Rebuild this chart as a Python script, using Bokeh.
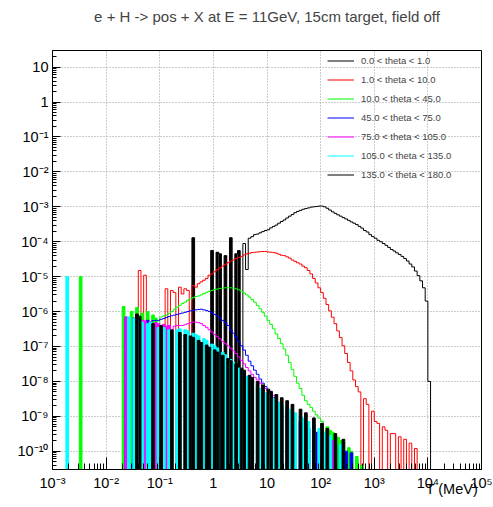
import numpy as np
from bokeh.plotting import figure
from bokeh.models import (Range1d, FixedTicker, Legend, LegendItem, CustomJSTickFormatter,
                          LogAxis)
from bokeh.embed import file_html
from bokeh.resources import INLINE

# ---------------- data (histogram contents, log-binned: 20 bins / decade from 1e-3 MeV) ----
LOG_BIN = 0.05
X_LOG_MIN = -3.0

labels = ["0.0 < theta < 1.0", "1.0 < theta < 10.0", "10.0 < theta < 45.0",
          "45.0 < theta < 75.0", "75.0 < theta < 105.0", "105.0 < theta < 135.0",
          "135.0 < theta < 180.0"]

th0_1_first = 52
th0_1 = [1.3e-4, 0, 0, 0, 0, 0, 0, 5.6e-5, 0, 5.0e-5, 4.5e-5, 0, 4.0e-5, 0, 1.3e-4,
         0, 4.5e-5, 5.6e-5, 0, 8.9e-5, 1.6e-5, 1.26e-4, 1.4e-4, 1.6e-4, 1.66e-4,
         1.8e-4, 1.95e-4, 2.1e-4, 2.2e-4, 2.5e-4, 2.75e-4, 3.0e-4, 3.4e-4, 3.8e-4, 4.2e-4,
         4.8e-4, 5.4e-4, 6.0e-4, 6.8e-4, 7.4e-4, 7.9e-4, 8.5e-4, 8.9e-4, 9.3e-4, 9.8e-4,
         1.0e-3, 1.02e-3, 1.05e-3, 1.05e-3, 1.0e-3, 9.1e-4, 8.1e-4, 7.2e-4, 6.5e-4, 5.9e-4,
         5.4e-4, 4.9e-4, 4.5e-4, 4.1e-4, 3.7e-4, 3.4e-4, 3.1e-4, 2.75e-4, 2.45e-4, 2.1e-4,
         1.9e-4, 1.6e-4, 1.4e-4, 1.26e-4, 1.1e-4, 1.0e-4, 8.9e-5, 7.9e-5, 6.9e-5, 6.0e-5,
         5.4e-5, 4.8e-5, 4.3e-5, 3.8e-5, 3.3e-5, 2.8e-5, 2.3e-5, 1.9e-5, 1.45e-5, 1.07e-5,
         7.6e-6, 4.8e-6, 2.0e-6, 1.0e-8]

th1_10_first = 32
th1_10 = [1.5e-5, 0, 1.1e-5, 0, 0, 0, 0, 0, 0, 0, 4.5e-6, 0, 4.0e-6, 3.5e-6, 0, 5.0e-6,
          3.2e-6, 4.5e-6, 4.0e-6, 0, 5.6e-6, 5.0e-6, 6.3e-6, 7.1e-6, 7.9e-6, 8.9e-6, 1.1e-5,
          1.2e-5, 1.38e-5, 1.58e-5, 1.78e-5, 2.0e-5, 2.24e-5, 2.5e-5, 2.8e-5, 3.0e-5, 3.3e-5,
          3.55e-5, 3.8e-5, 4.2e-5, 4.5e-5, 4.7e-5, 4.9e-5, 5.0e-5, 5.1e-5, 5.2e-5, 5.25e-5,
          5.25e-5, 5.1e-5, 5.0e-5, 4.9e-5, 4.7e-5, 4.4e-5, 4.1e-5, 4.0e-5, 3.7e-5, 3.4e-5,
          3.0e-5, 2.75e-5, 2.5e-5, 2.3e-5, 2.0e-5, 1.8e-5, 1.5e-5, 1.2e-5, 8.9e-6, 6.6e-6,
          4.8e-6, 3.5e-6, 2.4e-6, 1.6e-6, 1.05e-6, 6.9e-7, 4.5e-7, 2.8e-7, 1.8e-7, 1.05e-7,
          6.3e-8, 3.5e-8, 2.0e-8, 1.1e-8, 7.1e-9, 5.0e-9, 0, 3.2e-9, 2.2e-9, 0, 1.4e-9,
          7.1e-10, 6.3e-10, 0, 5.0e-10, 4.0e-10, 0, 3.2e-10, 3.2e-10, 0, 2.6e-10, 0, 2.2e-10,
          0, 1.7e-10, 0, 1.2e-10]

th10_45_first = 10
th10_45 = [1.0e-5, 0, 0, 0, 0, 0, 0, 0, 0, 0, 0, 0, 0, 0, 0, 0,
           1.4e-6, 0, 0, 1.0e-6, 0, 1.3e-6, 0, 9.0e-7, 0, 1.0e-6, 0, 8.0e-7, 6.5e-7, 0,
           7.0e-7, 7.5e-7, 7.9e-7, 8.9e-7, 1.0e-6, 1.17e-6, 1.35e-6, 1.5e-6, 1.7e-6, 1.86e-6,
           2.1e-6, 2.3e-6, 2.5e-6, 2.7e-6, 2.8e-6, 3.0e-6, 3.3e-6, 3.55e-6, 3.8e-6, 4.0e-6,
           4.3e-6, 4.4e-6, 4.6e-6, 4.7e-6, 4.8e-6, 4.8e-6, 4.8e-6, 4.7e-6, 4.5e-6, 4.2e-6,
           3.8e-6, 3.4e-6, 3.0e-6, 2.6e-6, 2.2e-6, 1.86e-6, 1.5e-6, 1.2e-6, 9.5e-7, 7.4e-7,
           5.6e-7, 4.3e-7, 3.2e-7, 2.3e-7, 1.7e-7, 1.2e-7, 8.5e-8, 5.6e-8, 3.5e-8, 2.2e-8,
           1.4e-8, 8.9e-9, 6.3e-9, 4.0e-9, 2.8e-9, 2.2e-9, 1.8e-9, 1.4e-9, 1.1e-9, 8.9e-10,
           7.1e-10, 0, 5.0e-10, 4.0e-10, 3.5e-10, 0, 2.5e-10, 2.0e-10, 1.8e-10, 0, 1.26e-10,
           1.0e-10, 0, 7.1e-11, 0, 4.0e-11]

th45_75_first = 26
th45_75 = [0, 6.9e-7, 0, 0, 6.5e-7, 0, 6.0e-7, 0, 0, 5.6e-7, 0, 5.5e-7, 5.6e-7, 5.6e-7,
           6.0e-7, 6.3e-7, 6.8e-7, 7.2e-7, 7.6e-7, 7.9e-7, 8.3e-7, 8.7e-7, 9.1e-7, 9.5e-7,
           1.0e-6, 1.05e-6, 1.07e-6, 1.12e-6, 1.15e-6, 1.17e-6, 1.12e-6, 1.07e-6, 1.0e-6,
           9.1e-7, 8.3e-7, 7.4e-7, 6.6e-7, 5.6e-7, 4.8e-7, 4.0e-7, 3.0e-7, 2.4e-7, 1.86e-7,
           1.4e-7, 1.05e-7, 7.9e-8, 5.6e-8, 3.8e-8, 2.8e-8, 2.1e-8, 1.6e-8, 1.17e-8, 8.9e-9,
           7.1e-9, 5.4e-9, 4.3e-9, 3.4e-9, 2.6e-9, 2.0e-9, 1.6e-9, 0, 1.0e-9, 1.4e-9, 0,
           7.9e-10, 0, 7.1e-10, 0, 0, 4.5e-10, 0, 0, 3.5e-10, 0, 2.8e-10, 0, 0, 2.0e-10, 0,
           1.6e-10, 0, 1.3e-10, 0, 1.0e-10, 0, 9.0e-11]

th75_105_first = 26
th75_105 = [0, 7.0e-7, 6.6e-7, 0, 0, 6.0e-7, 0, 5.6e-7, 5.4e-7, 0, 5.2e-7, 0, 4.8e-7, 4.5e-7,
            0, 4.3e-7, 3.8e-7, 4.0e-7, 0, 3.8e-7, 4.0e-7, 4.0e-7, 4.0e-7, 4.2e-7, 4.5e-7,
            4.8e-7, 5.0e-7, 5.0e-7, 4.8e-7, 4.5e-7, 4.0e-7, 3.55e-7, 3.0e-7, 2.6e-7, 2.2e-7,
            1.9e-7, 1.66e-7, 1.4e-7, 1.2e-7, 1.05e-7, 8.9e-8, 7.6e-8, 6.3e-8, 5.0e-8, 4.0e-8,
            3.2e-8, 2.5e-8, 2.0e-8, 1.6e-8, 1.3e-8, 1.1e-8, 8.9e-9, 7.6e-9, 6.3e-9, 5.4e-9,
            4.7e-9, 4.0e-9, 0, 2.5e-9, 1.6e-9, 0, 1.4e-9, 0, 1.0e-9, 0, 0, 7.1e-10, 0, 5.6e-10,
            0, 0, 4.0e-10, 0, 3.2e-10, 0, 0, 2.5e-10, 0, 2.0e-10]

th105_135_first = 5
th105_135 = [1.0e-5, 0, 0, 0, 0, 0, 0, 0, 0, 0, 0, 0, 0, 0, 0, 0, 0, 0, 0, 0, 0, 0, 0,
             7.0e-7, 0, 6.3e-7, 0, 5.6e-7, 5.0e-7, 0, 4.5e-7, 5.0e-7, 4.0e-7, 0, 3.5e-7,
             3.2e-7, 3.5e-7, 0, 3.0e-7, 2.8e-7, 0, 3.0e-7, 3.2e-7, 0, 3.0e-7,
             2.8e-7, 0, 2.4e-7, 2.2e-7, 2.0e-7, 0, 1.66e-7, 1.5e-7, 0, 1.17e-7, 1.05e-7,
             9.1e-8, 0, 6.8e-8, 5.8e-8, 0, 4.2e-8, 3.5e-8, 0, 2.4e-8, 2.0e-8, 0, 1.4e-8,
             1.17e-8, 1.0e-8, 0, 7.4e-9, 6.3e-9, 0, 4.8e-9, 0, 3.6e-9, 3.2e-9, 0, 2.5e-9,
             2.2e-9, 0, 1.8e-9, 1.6e-9, 0, 1.26e-9, 0, 1.0e-9, 8.9e-10, 0, 7.1e-10, 0,
             5.6e-10, 0, 4.5e-10, 0, 3.5e-10, 0, 2.8e-10, 0, 2.2e-10, 0, 1.6e-10]

th135_180_first = 26
th135_180 = [0, 0, 0, 0, 0, 8.5e-7, 7.4e-7, 0, 0, 0, 0, 4.5e-7, 0, 0, 4.0e-7, 0, 0, 0,
             3.0e-7, 0, 0, 2.5e-7, 0, 2.2e-7, 0, 2.0e-7, 1.8e-7, 0, 1.5e-7, 1.3e-7, 0,
             1.1e-7, 9.5e-8, 0, 8.0e-8, 6.9e-8, 0, 5.6e-8, 0, 4.5e-8, 3.9e-8, 0, 3.2e-8, 0,
             2.4e-8, 2.1e-8, 0, 1.5e-8, 1.3e-8, 0, 1.0e-8, 0, 7.9e-9, 0, 6.0e-9, 5.2e-9, 0,
             4.2e-9, 0, 3.4e-9, 0, 2.8e-9, 0, 2.2e-9, 0, 0, 1.6e-9, 0, 1.26e-9, 0, 0, 9.0e-10,
             0, 0, 6.3e-10, 0, 4.5e-10, 0, 0, 3.2e-10, 0, 0, 2.2e-10]

# (first bin, contents, colour, draw isolated spikes as solid bars)
series = [(th0_1_first, th0_1, "#000000", True),
          (th1_10_first, th1_10, "#ff0000", False),
          (th10_45_first, th10_45, "#00ff00", True),
          (th45_75_first, th45_75, "#0000ff", True),
          (th75_105_first, th75_105, "#ff00ff", True),
          (th105_135_first, th105_135, "#00ffff", True),
          (th135_180_first, th135_180, "#000000", True)]

# ---------------- plot ----------------
Y_MIN, Y_MAX = 3e-11, 30.0
FLOOR = 1e-14
FONT = "Liberation Sans"
X_TITLE = "T (MeV)"
X_TITLE_AT = 2.8e4   # axis-title anchor (bottom right, under the 10^4 - 10^5 decade)


def hist_geometry(first, vals):
    n = len(vals)
    edges = 10.0 ** (X_LOG_MIN + LOG_BIN * np.arange(first, first + n + 1))
    raw = np.asarray(vals, float)
    v = np.where(raw > 0, raw, FLOOR)
    xs = [edges[0]]
    ys = [FLOOR]
    for i in range(n):
        xs += [edges[i], edges[i + 1]]
        ys += [v[i], v[i]]
    xs.append(edges[-1])
    ys.append(FLOOR)
    # short runs of filled bins between empty bins (statistics-limited spikes) look solid
    spike = np.zeros(n, bool)
    i = 0
    while i < n:
        if raw[i] > 0:
            j = i
            while j < n and raw[j] > 0:
                j += 1
            if j - i <= 3:
                spike[i:j] = True
            i = j
        else:
            i += 1
    idx = np.nonzero(spike)[0]
    bars = dict(left=edges[idx], right=edges[idx + 1], top=raw[idx])
    return xs, ys, bars


p = figure(width=493, height=507, x_axis_type="log", y_axis_type="log",
           x_range=Range1d(1e-3, 1e5), y_range=Range1d(Y_MIN, Y_MAX),
           output_backend="svg", toolbar_location=None,
           min_border_left=52, min_border_right=12, min_border_top=50, min_border_bottom=38,
           background_fill_color="white", border_fill_color="white")

p.title.text = "e + H -> pos + X at E = 11GeV, 15cm target, field off\n"
p.title.align = "center"
p.title.text_font = FONT
p.title.text_font_size = "15px"
p.title.text_font_style = "normal"
p.title.vertical_align = "top"
p.title.standoff = 14

p.outline_line_color = "black"
p.outline_line_width = 1

xmaj = [10.0 ** k for k in range(-3, 6)]
xmin = [m * 10.0 ** k for k in range(-3, 5) for m in range(2, 10)]
ymaj = [10.0 ** k for k in range(-11, 2)]
ymin = [m * 10.0 ** k for k in range(-11, 2) for m in range(2, 10)]
xt = FixedTicker(ticks=xmaj, minor_ticks=xmin)
yt = FixedTicker(ticks=ymaj, minor_ticks=ymin)

fmt_code = """
const e = Math.round(Math.log10(tick));
if (e == 0) return "1";
if (e == 1) return "10";
const sup = {"-":"\u207b","0":"\u2070","1":"\u00b9","2":"\u00b2","3":"\u00b3","4":"\u2074",
             "5":"\u2075","6":"\u2076","7":"\u2077","8":"\u2078","9":"\u2079"};
return "10" + String(e).split("").map(c => sup[c]).join("");
"""

for ax, t, majlen, minlen, standoff in ((p.xaxis[0], xt, 12, 6, 5), (p.yaxis[0], yt, 8, 4, 4)):
    ax.ticker = t
    ax.formatter = CustomJSTickFormatter(code=fmt_code)
    ax.major_tick_in = majlen
    ax.major_tick_out = 0
    ax.minor_tick_in = minlen
    ax.minor_tick_out = 0
    ax.major_label_standoff = standoff
    ax.major_label_text_font = FONT
    ax.major_label_text_font_size = "14.5px"
    ax.major_label_text_color = "black"
    ax.axis_line_color = "black"
    ax.major_tick_line_color = "black"
    ax.minor_tick_line_color = "black"

# axis title "T (MeV)" at the right end, overlapping the tick-label row (ROOT style)
title_axis = LogAxis(ticker=FixedTicker(ticks=[X_TITLE_AT], minor_ticks=[]),
                     formatter=CustomJSTickFormatter(code='return "%s";' % X_TITLE),
                     axis_line_color=None, major_tick_line_color=None,
                     minor_tick_line_color=None, major_tick_in=0, major_tick_out=0,
                     minor_tick_in=0, minor_tick_out=0, major_label_standoff=-13,
                     major_label_text_font=FONT, major_label_text_font_size="14.5px",
                     major_label_text_color="black")
p.add_layout(title_axis, "below")

p.xgrid.ticker = xt
p.ygrid.ticker = yt
for g in (p.xgrid[0], p.ygrid[0]):
    g.grid_line_color = "#999999"
    g.grid_line_dash = "1 2"
    g.grid_line_width = 1

renderers = []
for first, vals, color, solid in series:
    xs, ys, bars = hist_geometry(first, vals)
    if solid:
        p.quad(left=bars["left"], right=bars["right"], top=bars["top"], bottom=FLOOR,
               fill_color=color, line_color=None)
    r = p.line(xs, ys, line_color=color, line_width=1)
    renderers.append(r)

legend = Legend(items=[LegendItem(label=lab, renderers=[r]) for lab, r in zip(labels, renderers)],
                location=(275, 285), padding=0, margin=0, spacing=0,
                glyph_width=27, glyph_height=19, label_height=19, label_standoff=7,
                label_text_font=FONT, label_text_font_size="9.5px",
                border_line_alpha=0, background_fill_alpha=0)
p.add_layout(legend)

open("out.html", "w").write(file_html(p, INLINE))
